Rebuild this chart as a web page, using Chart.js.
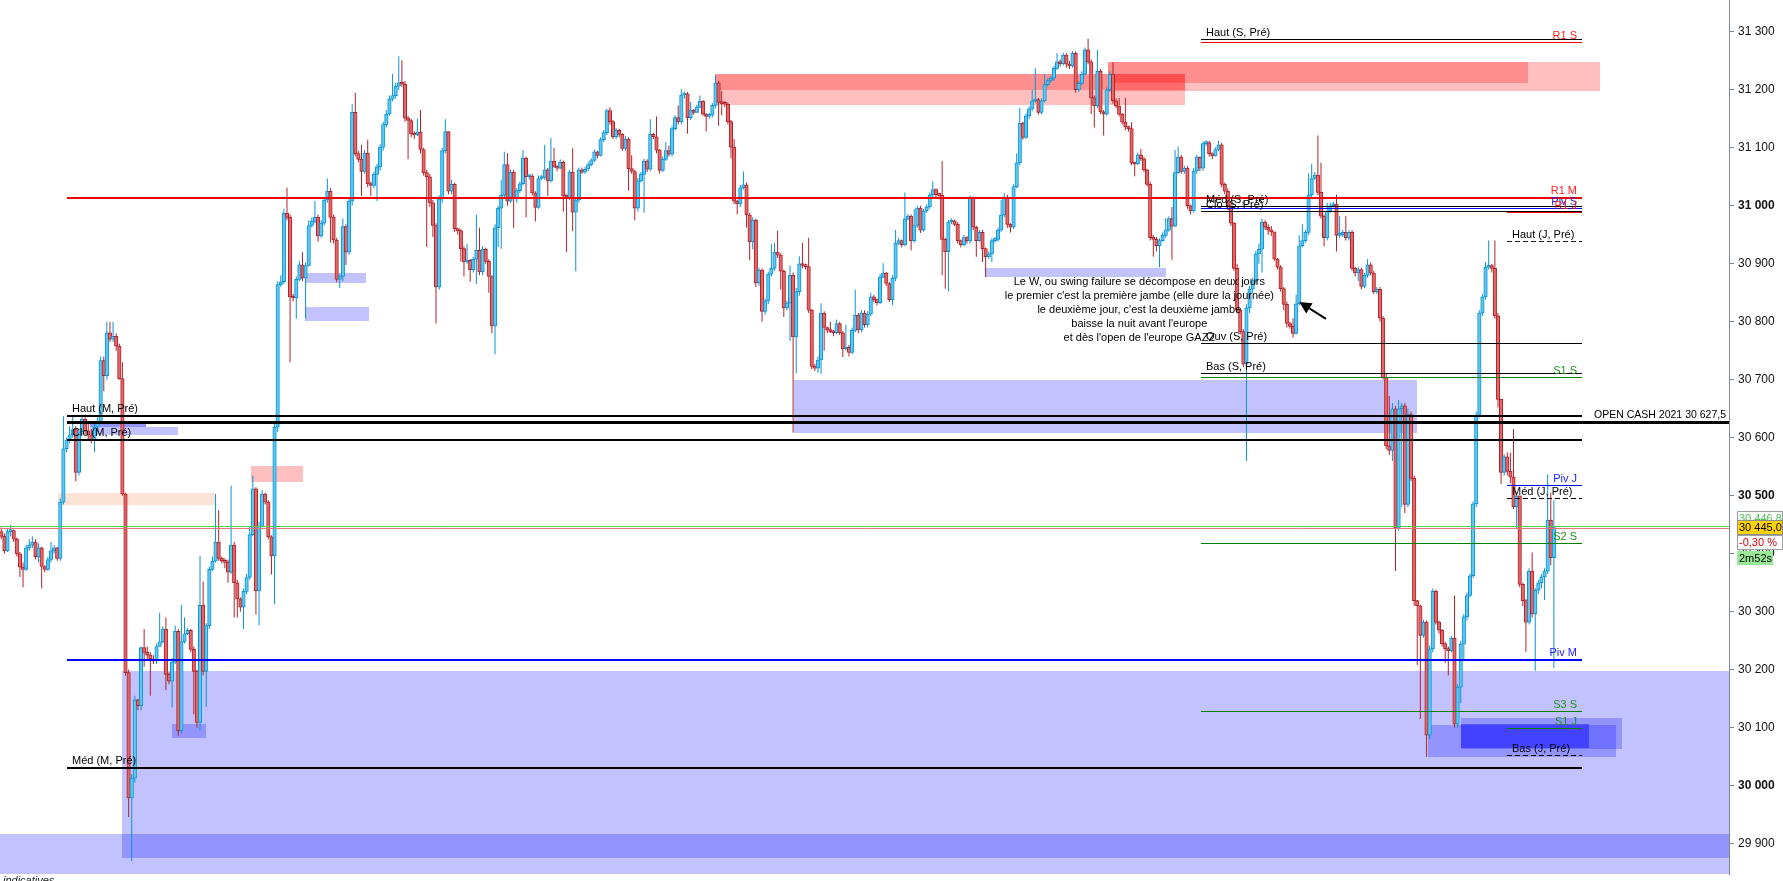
<!DOCTYPE html>
<html>
<head>
<meta charset="utf-8">
<title>W / swing failure</title>
<script src="https://cdn.jsdelivr.net/npm/chart.js@4.4.1/dist/chart.umd.min.js"></script>
<style>
  html, body { margin: 0; padding: 0; background: #fff; }
  #wrap { position: relative; width: 1783px; height: 881px; }
</style>
</head>
<body>
<div id="wrap"><canvas id="chart"></canvas></div>
<script>
// ---- candles (open = previous close) ----
const firstOpen = 30438;

const closes = [
  30430,30405,30438,30440,30425,30400,30377,30373,30410,30415,30420,30395,30410,30378,30373,30390,30405,30410,30392,30489,
  30581,30596,30605,30614,30540,30610,30632,30612,30605,30596,30618,30628,30733,30707,30781,30770,30775,30758,30702,30503,
  30195,29979,30013,30148,30138,30238,30230,30225,30218,30215,30240,30248,30270,30192,30180,30213,30266,30095,30248,30262,
  30268,30235,30197,30109,30311,30197,30276,30373,30387,30420,30392,30388,30385,30368,30415,30350,30322,30308,30335,30359,
  30433,30512,30336,30447,30503,30489,30429,30396,30618,30864,30869,30987,30980,30843,30841,30873,30898,30875,30897,30966,
  30973,30980,30948,30970,31010,31025,30980,30941,30873,30878,30964,30920,31008,31161,31090,31080,31059,31091,31038,31035,
  31054,31067,31101,31140,31158,31184,31190,31206,31212,31210,31151,31147,31124,31122,31127,31097,31057,31050,31005,30966,
  30860,31012,31095,31128,31025,31037,30960,30957,30926,30903,30906,30890,30908,30923,30886,30925,30904,30878,30793,30962,
  30996,31018,31071,31008,31058,31012,31026,31038,31082,31050,31051,31022,30997,31047,31049,31062,31043,31077,31068,31065,
  31075,31017,31015,31058,30989,31010,31062,31058,31063,31071,31078,31093,31087,31114,31126,31164,31145,31119,31130,31123,
  31099,31115,31064,31059,30996,31043,31054,31077,31063,31123,31119,31096,31061,31080,31095,31089,31133,31152,31145,31191,
  31193,31152,31165,31161,31170,31180,31158,31154,31156,31173,31212,31178,31176,31175,31145,31101,31008,31003,31031,31036,
  30984,30938,30975,30867,30889,30818,30836,30882,30892,30920,30915,30887,30824,30832,30880,30774,30852,30900,30897,30895,
  30820,30723,30720,30734,30815,30790,30786,30783,30781,30797,30781,30753,30756,30747,30785,30811,30786,30815,30795,30813,
  30843,30838,30833,30877,30884,30866,30838,30875,30935,30940,30933,30977,30982,30940,30966,30996,30958,30991,30998,31019,
  31028,31019,31018,30942,30921,30972,30974,30968,30940,30933,30945,30940,31014,30963,30940,30954,30926,30912,30917,30940,
  30942,30958,30984,31014,30968,30963,31033,31074,31142,31118,31155,31167,31181,31183,31161,31181,31209,31216,31220,31237,
  31248,31245,31260,31244,31241,31263,31200,31211,31227,31269,31248,31186,31172,31232,31162,31158,31200,31227,31181,31172,
  31158,31144,31136,31133,31074,31072,31088,31081,31062,31037,30945,30942,30931,30940,30949,30958,30978,30965,31057,31084,
  31059,31065,31000,30991,31060,31084,31065,31107,31109,31090,31086,31097,31105,31037,31025,31000,30970,30892,30820,30783,
  30727,30824,30856,30871,30917,30925,30972,30963,30958,30955,30908,30894,30857,30830,30797,30792,30780,30831,30931,30940,
  30954,31019,31047,31053,31023,30982,30945,30991,31000,31003,30949,30950,30954,30945,30954,30892,30884,30890,30861,30880,
  30898,30884,30852,30856,30806,30704,30586,30578,30650,30444,30650,30655,30485,30640,30530,30319,30310,30259,30282,30087,
  30236,30335,30282,30268,30245,30236,30233,30254,30106,30170,30244,30291,30328,30362,30486,30639,30815,30843,30894,30897,
  30892,30810,30666,30540,30567,30542,30532,30481,30500,30347,30319,30282,30370,30296,30337,30350,30360,30370,30458,30393,30445
];

const highs = [
  30445,30435,30442,30450,30442,30428,30403,30385,30415,30425,30430,30425,30418,30412,30380,30395,30420,30415,30412,30495,
  30637,30600,30620,30637,30620,30615,30640,30640,30625,30615,30625,30635,30740,30740,30800,30800,30800,30780,30762,30730,
  30505,30200,30020,30155,30150,30240,30270,30240,30230,30225,30245,30298,30275,30290,30195,30220,30276,30270,30312,30290,
  30272,30270,30240,30200,30396,30352,30280,30378,30395,30503,30475,30395,30392,30390,30517,30420,30355,30325,30340,30365,
  30447,30535,30515,30455,30510,30505,30492,30432,30625,30870,30880,30995,31031,30985,30848,30878,30905,30920,30902,30975,
  30980,31008,30985,30975,31015,31047,31030,30985,30945,30882,30978,30968,31015,31175,31195,31095,31105,31096,31114,31042,
  31058,31072,31106,31145,31165,31190,31227,31212,31258,31251,31215,31155,31150,31128,31150,31165,31100,31062,31055,31010,
  30970,31018,31100,31149,31125,31045,31040,30962,30960,30930,30934,30908,30912,30985,30962,30930,30928,30908,30880,30968,
  31000,31045,31093,31091,31062,31062,31030,31042,31096,31085,31055,31055,31025,31052,31053,31105,31065,31117,31100,31070,
  31080,31078,31020,31062,31099,31015,31066,31066,31067,31075,31082,31097,31095,31118,31130,31167,31170,31148,31134,31133,
  31125,31120,31118,31087,31062,31048,31058,31081,31080,31149,31126,31154,31098,31085,31110,31104,31137,31156,31173,31201,
  31197,31196,31179,31167,31174,31190,31182,31160,31160,31177,31226,31215,31198,31180,31178,31148,31115,31010,31036,31059,
  31040,30988,30980,30978,30893,30892,30840,30886,30934,30936,30957,30918,30890,30836,30897,30885,30858,30913,30936,30900,
  30945,30822,30727,30740,30832,30818,30792,30800,30786,30804,30800,30784,30795,30760,30790,30855,30815,30820,30820,30818,
  30850,30846,30840,30882,30901,30886,30868,30880,30958,30945,30942,31023,30986,30985,30994,31000,31000,30995,31002,31023,
  31042,31030,31022,31077,30945,30976,30978,30976,30972,30942,30950,30948,31018,31016,30965,30958,30958,30928,30921,30944,
  30946,30962,31010,31022,31019,30970,31037,31090,31169,31145,31159,31171,31200,31237,31186,31185,31227,31220,31224,31241,
  31263,31252,31264,31263,31250,31267,31266,31215,31232,31273,31288,31252,31190,31269,31236,31165,31204,31232,31248,31185,
  31186,31160,31186,31138,31144,31076,31092,31098,31084,31064,31042,30950,30946,30944,30954,30979,30982,30998,31096,31102,
  31088,31069,31068,31002,31065,31088,31085,31111,31113,31112,31092,31101,31112,31108,31040,31030,31003,30972,30900,30822,
  30787,30830,30862,30876,30922,30935,30978,30975,30968,30965,30942,30910,30898,30860,30835,30800,30806,30847,30949,30968,
  30958,31056,31072,31058,31121,31074,30985,31005,31005,31007,31019,30982,30958,30982,30958,30958,30895,30895,30893,30884,
  30908,30902,30888,30860,30860,30810,30710,30672,30660,30655,30665,30660,30660,30650,30645,30535,30320,30312,30286,30285,
  30242,30340,30338,30285,30270,30248,30240,30258,30328,30175,30250,30296,30333,30366,30490,30645,30820,30848,30903,30940,
  30900,30940,30815,30655,30572,30575,30574,30615,30505,30500,30350,30322,30375,30402,30341,30355,30365,30375,30537,30505,30492
];

const lows = [
  30425,30400,30403,30430,30420,30395,30360,30342,30370,30405,30410,30390,30385,30340,30368,30370,30385,30400,30388,30388,
  30485,30575,30590,30600,30525,30535,30605,30605,30595,30590,30575,30610,30625,30680,30700,30765,30765,30750,30700,30500,
  30190,29946,29870,30005,30130,30130,30205,30215,30155,30210,30210,30240,30245,30165,30175,30135,30210,30086,30090,30245,
  30260,30230,30123,30100,30095,30190,30136,30270,30370,30385,30388,30383,30375,30350,30365,30290,30290,30300,30270,30330,
  30355,30430,30295,30276,30445,30485,30425,30364,30313,30610,30860,30865,30975,30730,30835,30805,30870,30870,30805,30895,
  30962,30970,30938,30945,30966,31005,30936,30935,30868,30858,30870,30898,30915,31000,31085,31075,31017,31055,31032,31017,
  31030,31008,31060,31095,31135,31155,31180,31185,31200,31205,31145,31080,31118,31115,31120,31090,31052,30929,30998,30946,
  30797,30855,31005,31090,31020,31020,30955,30950,30904,30878,30900,30869,30885,30865,30880,30880,30900,30850,30780,30744,
  30929,30926,31015,31000,31005,30962,31005,31022,31035,30980,31045,31018,30973,30995,31044,31045,31017,31040,31065,31060,
  31063,30990,30920,31010,30956,30887,31005,31055,31055,31060,31068,31075,31082,31085,31110,31122,31140,31115,31115,31118,
  31095,31095,31026,31055,30975,30990,31040,30988,31058,31060,31115,31090,31055,31058,31077,31085,31085,31130,31140,31140,
  31185,31124,31148,31157,31160,31168,31155,31128,31150,31152,31168,31138,31156,31170,31140,31082,31003,30985,30998,31028,
  30962,30906,30925,30860,30862,30800,30812,30830,30878,30888,30910,30855,30808,30820,30767,30609,30711,30845,30892,30890,
  30815,30718,30715,30712,30710,30750,30780,30780,30775,30778,30777,30739,30750,30740,30744,30782,30780,30782,30790,30790,
  30810,30834,30828,30830,30875,30862,30834,30829,30870,30932,30928,30930,30975,30923,30936,30962,30953,30955,30988,30995,
  31015,31015,31014,30880,30857,30852,30968,30965,30935,30928,30930,30935,30935,30958,30912,30938,30903,30877,30908,30903,
  30936,30938,30955,30980,30962,30954,30960,31030,31070,31114,31115,31150,31163,31178,31157,31158,31178,31205,31212,31215,
  31234,31240,31242,31238,31236,31238,31195,31196,31208,31225,31244,31158,31135,31168,31158,31121,31155,31196,31176,31168,
  31154,31140,31130,31128,31070,31051,31070,31077,31058,31033,30940,30912,30921,30894,30938,30945,30955,30907,30963,31055,
  31055,31055,30995,30985,30988,31055,31060,31060,31103,31085,31080,31085,31094,31032,31020,30995,30965,30888,30814,30778,
  30722,30560,30815,30850,30866,30900,30885,30958,30950,30948,30905,30890,30852,30820,30790,30788,30773,30778,30828,30928,
  30936,30950,31015,31045,31018,30978,30930,30940,30988,30997,30921,30944,30946,30940,30940,30888,30878,30870,30856,30858,
  30876,30880,30848,30848,30800,30700,30580,30570,30560,30370,30440,30480,30470,30480,30525,30310,30208,30115,30255,30050,
  30080,30230,30278,30262,30240,30212,30190,30230,30100,30100,30142,30218,30285,30325,30358,30480,30635,30810,30838,30890,
  30885,30805,30652,30520,30535,30535,30522,30477,30444,30342,30310,30231,30278,30290,30198,30330,30340,30320,30365,30380,30203
];

// ---- price axis ----
const yTicks = [29900, 30000, 30100, 30200, 30300, 30400, 30500, 30600, 30700, 30800, 30900, 31000, 31100, 31200, 31300];
const yMin = 29847.7;
const yMax = 31354.8;
const xMin = -0.42;
const xMax = 556.4;

// ---- horizontal levels (bar index range) ----
const levelNames = ['Haut (S, Pré)', 'R1 S', 'R1 M', 'Méd (S, Pré)', 'Piv S', 'Clo (S, Pré)', 'R1 J', 'Haut (J, Pré)',
  'Ouv (S, Pré)', 'Bas (S, Pré)', 'S1 S', 'Haut (M, Pré)', 'OPEN CASH 2021 30 627,5', 'Clo (M, Pré)', 'Piv J',
  'Méd (J, Pré)', 'S2 S', 'Piv M', 'S3 S', 'S1 J', 'Bas (J, Pré)', 'Méd (M, Pré)'];
const levelPrices = [31287, 31282, 31013, 30999, 30996, 30991, 30989, 30940,
  30763, 30711, 30705, 30637, 30627.5, 30596, 30519,
  30496, 30419, 30217, 30128, 30100, 30053, 30031];
const levelFrom = [386.5, 386.5, 21, 386.5, 386.5, 386.5, 485, 485,
  386.5, 386.5, 386.5, 21, 21, 21, 485,
  485, 386.5, 21, 386.5, 485, 485, 21];
const levelTo = [509, 509, 509, 509, 509, 509, 509, 509,
  509, 509, 509, 509, xMax, 509, 509,
  509, 509, 509, 509, 509, 509, 509];

// ---- zones (bar index range, price range) ----
const zoneKind   = ['buy', 'buy', 'buy', 'buy', 'buy', 'buy', 'buy', 'buy', 'buy', 'buy', 'buy', 'buy',
  'sell', 'sell', 'sell', 'sell', 'sell', 'gap'];
const zoneFrom   = [-1, 39, 255.3, 28.7, 28.7, 97.9, 97.9, 54.9, 316.9, 459.6, 470.1, 470.1,
  230.2, 230.2, 356.3, 356.3, 80.4, 18.4];
const zoneTo     = [600, 600, 455.9, 46.6, 56.9, 117.3, 118.3, 65.8, 375.2, 520, 521.9, 511.4,
  381.3, 381.3, 514.7, 491.6, 97.3, 68.7];
const zoneTop    = [29917, 30197, 30700, 30627, 30618, 30884, 30826, 30107, 30892, 30105, 30117, 30106,
  31227, 31227, 31248, 31248, 30552, 30505];
const zoneBottom = [29700, 29876, 30608, 30618, 30605, 30867, 30801, 30083, 30877, 30049, 30063, 30065,
  31173, 31200, 31198, 31212, 30524, 30484];

// ---- note, arrow, last quote ----
const noteLines = [
  'Le W, ou swing failure se décompose en deux jours',
  'le premier c\'est la première jambe (elle dure la journée)',
  'le deuxième jour, c\'est la deuxième jambe',
  'baisse la nuit avant l\'europe',
  'et dès l\'open de l\'europe GAZZ'
];
const noteAt = [366.5, 30869];
const arrowTip = [418, 30834];
const arrowTail = [426.6, 30805];
const prevQuote = 30446.8;
const lastQuote = 30445.0;
const changeText = '-0,30 %';
const timerText = '2m52s';

if (highs.length !== closes.length || lows.length !== closes.length) {
  throw new Error('length mismatch ' + closes.length + ' ' + highs.length + ' ' + lows.length);
}

// ---- build datasets ----
const opens = closes.map((c, i) => (i === 0 ? firstOpen : closes[i - 1]));
const isUp = closes.map((c, i) => c >= opens[i]);

const bodies = closes.map((c, i) => ({ x: i, y: [opens[i], c] }));
const wicks = closes.map((c, i) => ({
  x: i,
  y: [Math.min(lows[i], opens[i], c), Math.max(highs[i], opens[i], c)]
}));

const UP_EDGE = '#0b93d3';
const UP_FILL = '#5fc8f2';
const DN_EDGE = '#b0232a';
const DN_FILL = '#e46666';
const FONT = '"Liberation Sans", Arial, sans-serif';

const edgeColors = isUp.map(u => (u ? UP_EDGE : DN_EDGE));
const fillColors = isUp.map(u => (u ? UP_FILL : DN_FILL));

function fmt(v) {
  const s = Math.round(v).toString();
  return s.replace(/\B(?=(\d{3})+$)/g, ' ');
}

function quoteText(v) {
  const s = v.toFixed(1).replace('.', ',');
  return s.replace(/^(\d{2})/, '$1 ');
}

function levelLook(name) {
  if (/^R\d/.test(name)) return { color: '#f00000', text: '#ff1a1a', width: / M$/.test(name) ? 2 : 1, side: 'right' };
  if (/^Piv/.test(name)) return { color: '#0000ff', text: '#1a1aff', width: / M$/.test(name) ? 2 : 1, side: 'right' };
  if (/^S\d/.test(name)) return { color: '#008000', text: '#1f8f1f', width: 1, side: 'right' };
  if (/^OPEN/.test(name)) return { color: '#000', text: '#000', width: 3, side: 'axis', size: 10.5 };
  if (/\(J, Pré\)/.test(name)) return { color: '#000', text: '#000', width: 1, side: 'left', dash: [5, 3] };
  if (/\(M, Pré\)/.test(name)) return { color: '#000', text: '#000', width: 2, side: 'left' };
  return { color: '#000', text: '#000', width: 1, side: 'left' };
}

const zoneColors = { buy: 'rgba(0, 0, 255, 0.24)', sell: 'rgba(255, 0, 0, 0.25)', gap: 'rgba(250, 160, 120, 0.3)' };
const zoneDepth = [1, 1, 1, 2, 1, 1, 1, 1, 1, 1, 1, 2, 1, 1, 1, 1, 1, 1];

const overlays = {
  id: 'overlays',

  beforeDatasetsDraw(chart) {
    const { ctx, chartArea: a, scales: { x, y } } = chart;
    ctx.save();
    ctx.beginPath();
    ctx.rect(a.left, a.top, a.right - a.left, a.bottom - a.top);
    ctx.clip();
    zoneFrom.forEach((from, i) => {
      const x0 = Math.round(x.getPixelForValue(from));
      const x1 = Math.round(x.getPixelForValue(zoneTo[i]));
      const y0 = Math.round(y.getPixelForValue(zoneTop[i]));
      const y1 = Math.round(y.getPixelForValue(zoneBottom[i]));
      ctx.fillStyle = zoneColors[zoneKind[i]];
      for (let k = 0; k < zoneDepth[i]; k++) ctx.fillRect(x0, y0, x1 - x0, y1 - y0);
    });
    ctx.restore();
  },

  afterDatasetsDraw(chart) {
    const { ctx, chartArea: a, scales: { x, y } } = chart;
    ctx.save();

    // last quote lines
    [[prevQuote, '#55cc55', -1], [lastQuote, '#e07878', 0]].forEach(([p, col, shift]) => {
      const py = Math.round(y.getPixelForValue(p)) + shift + 0.5;
      ctx.strokeStyle = col;
      ctx.lineWidth = 1;
      ctx.beginPath();
      ctx.moveTo(a.left, py);
      ctx.lineTo(a.right, py);
      ctx.stroke();
    });

    // levels
    ctx.textBaseline = 'bottom';
    levelNames.forEach((name, i) => {
      const look = levelLook(name);
      const x0 = Math.round(x.getPixelForValue(levelFrom[i]));
      const x1 = Math.min(a.right, Math.round(x.getPixelForValue(levelTo[i])));
      const raw = Math.round(y.getPixelForValue(levelPrices[i]));
      const py = look.width % 2 ? raw + 0.5 : raw;
      ctx.strokeStyle = look.color;
      ctx.lineWidth = look.width;
      ctx.setLineDash(look.dash || []);
      ctx.beginPath();
      ctx.moveTo(x0, py);
      ctx.lineTo(x1, py);
      ctx.stroke();
      ctx.setLineDash([]);

      ctx.font = (look.size || 11) + 'px ' + FONT;
      ctx.fillStyle = look.text;
      const ty = py - look.width / 2 - 1;
      if (look.side === 'left') {
        ctx.textAlign = 'left';
        ctx.fillText(name, x0 + 5, ty);
      } else if (look.side === 'right') {
        ctx.textAlign = 'right';
        ctx.fillText(name, x1 - 5, ty);
      } else {
        ctx.textAlign = 'right';
        ctx.fillText(name, a.right - 3, ty);
      }
    });

    // note
    ctx.font = '11px ' + FONT;
    ctx.fillStyle = '#000';
    ctx.textAlign = 'center';
    ctx.textBaseline = 'middle';
    const nx = x.getPixelForValue(noteAt[0]);
    const ny = y.getPixelForValue(noteAt[1]);
    noteLines.forEach((line, k) => ctx.fillText(line, nx, ny + k * 14));

    // arrow
    const tx = x.getPixelForValue(arrowTip[0]);
    const tyy = y.getPixelForValue(arrowTip[1]);
    const sx = x.getPixelForValue(arrowTail[0]);
    const sy = y.getPixelForValue(arrowTail[1]);
    const ang = Math.atan2(tyy - sy, tx - sx);
    const hl = 12;
    const hw = 6;
    const bx = tx - hl * Math.cos(ang);
    const by = tyy - hl * Math.sin(ang);
    ctx.strokeStyle = '#000';
    ctx.lineWidth = 2;
    ctx.beginPath();
    ctx.moveTo(sx, sy);
    ctx.lineTo(bx, by);
    ctx.stroke();
    ctx.fillStyle = '#000';
    ctx.beginPath();
    ctx.moveTo(tx, tyy);
    ctx.lineTo(bx + hw * Math.sin(ang), by - hw * Math.cos(ang));
    ctx.lineTo(bx - hw * Math.sin(ang), by + hw * Math.cos(ang));
    ctx.closePath();
    ctx.fill();

    ctx.restore();
  },

  afterDraw(chart) {
    const { ctx, chartArea: a, scales: { y } } = chart;
    const py = y.getPixelForValue(lastQuote);
    const bx = a.right + 8;
    ctx.save();
    ctx.font = '11px ' + FONT;
    ctx.textBaseline = 'middle';
    ctx.textAlign = 'left';

    const box = (top, w, h, bg, border, text, col) => {
      const t = Math.round(top);
      ctx.fillStyle = bg;
      ctx.fillRect(bx, t, w, h);
      if (border) {
        ctx.strokeStyle = border;
        ctx.lineWidth = 1;
        ctx.strokeRect(bx + 0.5, t + 0.5, w - 1, h - 1);
      }
      ctx.fillStyle = col;
      ctx.fillText(text, bx + 2, t + h / 2 + 0.5);
    };
    box(py - 17, 46, 15, '#fff', '#9aa0a8', quoteText(prevQuote), '#4cc24c');
    box(py - 8, 46, 15, '#ffd200', '#8c8c8c', quoteText(lastQuote), '#000');
    box(py + 7, 46, 15, '#fff', '#a0a0a0', changeText, '#d40000');
    box(py + 23, 36, 14, '#98e898', null, timerText, '#000');

    ctx.font = 'italic 11px ' + FONT;
    ctx.fillStyle = '#222';
    ctx.textBaseline = 'top';
    ctx.fillText('indicatives', 3, a.bottom + 1);
    ctx.restore();
  }
};

new Chart(document.getElementById('chart'), {
  type: 'bar',
  data: {
    datasets: [
      {
        label: 'corps',
        data: bodies,
        order: 0,
        grouped: false,
        barThickness: 3.5,
        borderWidth: 1,
        borderSkipped: false,
        minBarLength: 2,
        backgroundColor: fillColors,
        borderColor: edgeColors
      },
      {
        label: 'mèches',
        data: wicks,
        order: 1,
        grouped: false,
        barThickness: 1,
        borderWidth: 0,
        inflateAmount: 0,
        backgroundColor: edgeColors
      }
    ]
  },
  options: {
    animation: false,
    responsive: true,
    maintainAspectRatio: false,
    devicePixelRatio: 1,
    events: [],
    layout: { padding: { left: 0, right: 0, top: 0, bottom: 7 } },
    plugins: {
      legend: { display: false },
      tooltip: { enabled: false }
    },
    scales: {
      x: {
        type: 'linear',
        min: xMin,
        max: xMax,
        offset: false,
        display: false
      },
      y: {
        position: 'right',
        min: yMin,
        max: yMax,
        afterFit(scale) {
          scale.width = 54;
          scale.paddingTop = 0;
          scale.paddingBottom = 0;
        },
        afterBuildTicks(scale) {
          scale.ticks = yTicks.map(v => ({ value: v }));
        },
        ticks: {
          padding: 4,
          color: '#111',
          font: (c) => ({ family: FONT, size: 12, weight: c.tick && c.tick.value % 500 === 0 ? 'bold' : 'normal' }),
          callback: (v) => fmt(v)
        },
        grid: {
          drawOnChartArea: false,
          drawTicks: true,
          tickLength: 5,
          color: '#7b8794'
        },
        border: { display: true, color: '#7b8794', width: 1 }
      }
    }
  },
  plugins: [overlays]
});
</script>
</body>
</html>
